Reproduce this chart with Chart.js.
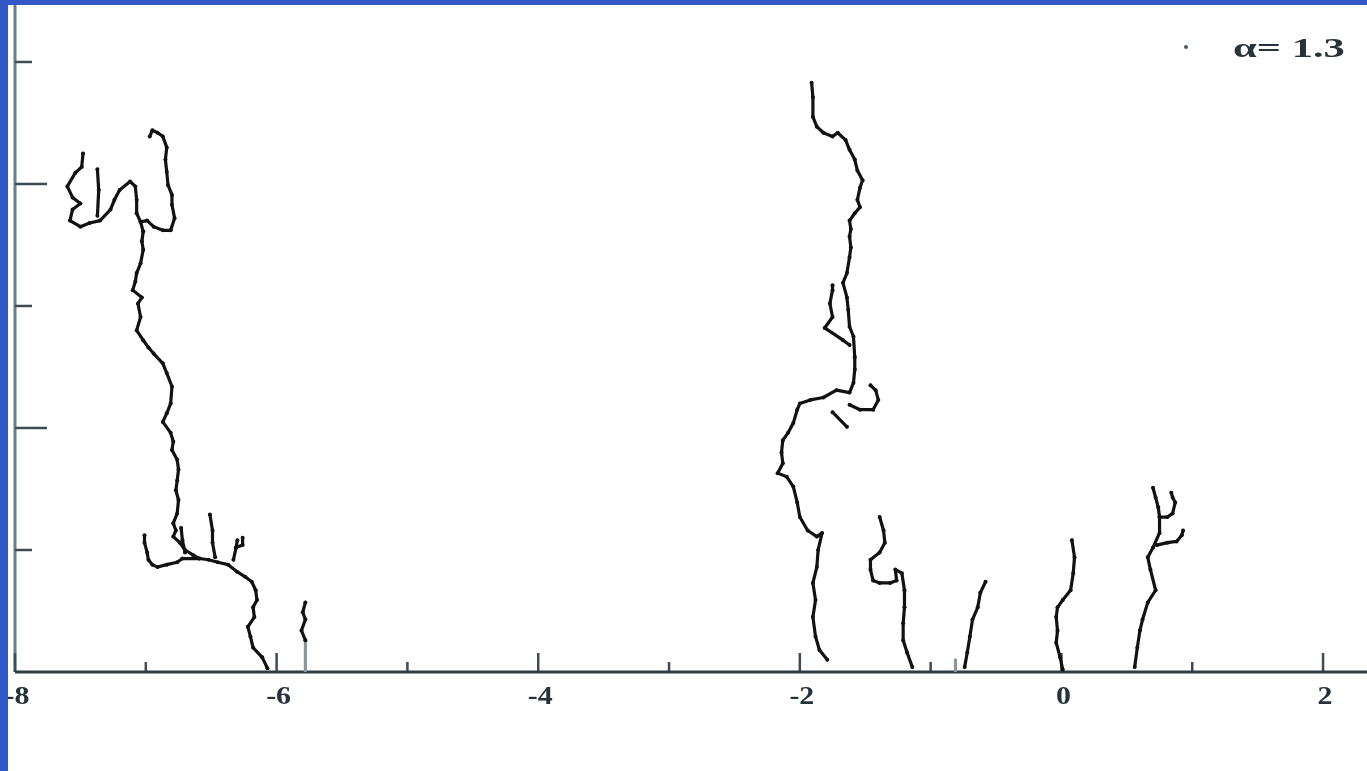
<!DOCTYPE html>
<html>
<head>
<meta charset="utf-8">
<script src="https://cdn.jsdelivr.net/npm/chart.js@4.4.0/dist/chart.umd.min.js"></script>
<style>
html, body { margin: 0; padding: 0; background: #3158c8; width: 1367px; height: 771px; overflow: hidden; }
#wrap { position: absolute; left: 8px; top: 5px; width: 1359px; height: 766px; background: #fff; }
</style>
</head>
<body>
<div id="wrap"><canvas id="chart"></canvas></div>
<script>
// axis ticks
const xTicks = [-8, -7, -6, -5, -4, -3, -2, -1, 0, 1, 2];
const xLabels = ['-8', '', '-6', '', '-4', '', '-2', '', '0', '', '2'];
const yTicks = [0, 1, 2, 3, 4, 5];
const legendLabel = 'α= 1.3';

// cluster near x = -6.5 (trunk from substrate to top)
const trunkA = [[-6.07,0.03],[-6.11,0.12],[-6.18,0.20],[-6.20,0.29],[-6.22,0.37],[-6.17,0.45],[-6.18,0.53],[-6.15,0.59],[-6.16,0.67],[-6.19,0.74],[-6.24,0.78],[-6.30,0.82],[-6.37,0.88],[-6.45,0.90],[-6.52,0.92],[-6.59,0.93],[-6.64,0.96],[-6.70,1.00],[-6.74,1.06],[-6.79,1.11],[-6.77,1.16],[-6.79,1.22],[-6.76,1.30],[-6.75,1.41],[-6.77,1.49],[-6.76,1.57],[-6.75,1.66],[-6.76,1.74],[-6.80,1.82],[-6.79,1.89],[-6.81,1.96],[-6.87,2.05],[-6.84,2.12],[-6.81,2.20],[-6.80,2.34],[-6.84,2.45],[-6.87,2.53],[-6.94,2.61],[-6.98,2.66],[-7.02,2.72],[-7.07,2.80],[-7.04,2.91],[-7.06,3.02],[-7.03,3.07],[-7.10,3.13],[-7.08,3.20],[-7.07,3.27],[-7.04,3.35],[-7.02,3.46],[-7.03,3.53],[-7.02,3.61]];
const lowLeftA = [[-6.59,0.93],[-6.72,0.93],[-6.76,0.90],[-6.84,0.88],[-6.91,0.86],[-6.95,0.88],[-6.98,0.92],[-6.99,0.98],[-7.01,1.06],[-7.01,1.12]];
const topLoopA = [[-7.02,3.61],[-7.04,3.69],[-7.07,3.76],[-7.07,3.87],[-7.08,3.98],[-7.12,4.02],[-7.20,3.95],[-7.24,3.87],[-7.27,3.79],[-7.35,3.70],[-7.43,3.68],[-7.50,3.65],[-7.58,3.70],[-7.56,3.79],[-7.50,3.84],[-7.56,3.89],[-7.60,3.98],[-7.54,4.09],[-7.49,4.14],[-7.48,4.25]];
const sprigA = [[-7.37,3.74],[-7.36,3.95],[-7.37,4.12]];
const topRightA = [[-7.04,3.69],[-6.99,3.70],[-6.94,3.65],[-6.87,3.62],[-6.81,3.62],[-6.78,3.72],[-6.80,3.83],[-6.80,3.91],[-6.83,3.99],[-6.84,4.10],[-6.85,4.20],[-6.84,4.30],[-6.87,4.39],[-6.91,4.42],[-6.95,4.44],[-6.97,4.39]];
const twigA1 = [[-6.47,0.94],[-6.49,1.06],[-6.49,1.16],[-6.51,1.29]];
const twigA2 = [[-6.33,0.92],[-6.31,1.02],[-6.30,1.08]];
const twigA3 = [[-6.31,1.02],[-6.26,1.04],[-6.26,1.10]];
const twigA4 = [[-6.70,0.98],[-6.72,1.08],[-6.73,1.18]];
const stubA = [[-5.78,0.26],[-5.81,0.34],[-5.78,0.43],[-5.80,0.49],[-5.78,0.57]];
const stubAFaint = [[-5.78,0.0],[-5.78,0.26]];

// cluster near x = -1.8
const trunkB = [[-1.91,4.83],[-1.90,4.71],[-1.90,4.55],[-1.87,4.47],[-1.82,4.42],[-1.75,4.39],[-1.71,4.42],[-1.65,4.36],[-1.62,4.28],[-1.58,4.20],[-1.56,4.11],[-1.52,4.03],[-1.54,3.97],[-1.56,3.87],[-1.54,3.81],[-1.58,3.76],[-1.62,3.70],[-1.61,3.63],[-1.62,3.57],[-1.61,3.48],[-1.62,3.40],[-1.64,3.27],[-1.67,3.19],[-1.64,3.07],[-1.63,2.97],[-1.62,2.83],[-1.59,2.75],[-1.58,2.58],[-1.58,2.48],[-1.59,2.37],[-1.62,2.29],[-1.72,2.31],[-1.82,2.25],[-1.92,2.23],[-2.00,2.20],[-2.02,2.15],[-2.05,2.04],[-2.09,1.96],[-2.13,1.90],[-2.14,1.80],[-2.13,1.71],[-2.17,1.63],[-2.10,1.60],[-2.05,1.52],[-2.02,1.39],[-2.00,1.27],[-1.94,1.16],[-1.87,1.11],[-1.83,1.14],[-1.86,1.00],[-1.87,0.86],[-1.90,0.73],[-1.88,0.59],[-1.90,0.45],[-1.88,0.29],[-1.85,0.18],[-1.79,0.10]];
const sideB = [[-1.62,2.68],[-1.67,2.72],[-1.81,2.82],[-1.75,2.91],[-1.77,3.02],[-1.75,3.13],[-1.75,3.17]];
const hookB = [[-1.62,2.19],[-1.54,2.15],[-1.44,2.15],[-1.40,2.23],[-1.42,2.31],[-1.46,2.35]];
const dashB = [[-1.75,2.13],[-1.64,2.01]];

// small clusters near the origin
const clusterC = [[-1.39,1.27],[-1.36,1.16],[-1.35,1.06],[-1.39,0.98],[-1.46,0.92],[-1.46,0.84],[-1.44,0.75],[-1.39,0.73],[-1.31,0.73],[-1.26,0.75],[-1.27,0.84],[-1.22,0.81],[-1.20,0.67],[-1.20,0.53],[-1.21,0.40],[-1.21,0.26],[-1.18,0.16],[-1.14,0.04]];
const clusterD = [[-0.58,0.74],[-0.62,0.65],[-0.64,0.53],[-0.68,0.43],[-0.70,0.29],[-0.72,0.16],[-0.74,0.04]];
const stubD = [[-0.81,0.0],[-0.81,0.10]];
const clusterE = [[0.08,1.08],[0.10,0.94],[0.09,0.81],[0.07,0.67],[0.01,0.59],[-0.03,0.53],[-0.04,0.45],[-0.03,0.34],[-0.04,0.24],[-0.01,0.12],[0.01,0.02]];
const stemF = [[0.56,0.04],[0.58,0.20],[0.60,0.34],[0.62,0.43],[0.66,0.57],[0.72,0.67],[0.68,0.84],[0.66,0.94],[0.70,1.02],[0.75,1.14],[0.75,1.27],[0.74,1.35],[0.72,1.43],[0.70,1.51]];
const forkF = [[0.75,1.27],[0.81,1.27],[0.85,1.30],[0.87,1.39],[0.85,1.43],[0.84,1.47]];
const sideF = [[0.73,1.04],[0.81,1.06],[0.88,1.07],[0.92,1.12],[0.93,1.16]];

const darkChains = [trunkA, lowLeftA, topLoopA, sprigA, topRightA, twigA1, twigA2, twigA3, twigA4, stubA,
  trunkB, sideB, hookB, dashB, clusterC, clusterD, clusterE, stemF, forkF, sideF];
const faintChains = [stubAFaint, stubD];

function chainSet(pts, color) {
    return {
        data: pts.map(p => ({ x: p[0], y: p[1] })),
        showLine: true,
        borderColor: color,
        backgroundColor: color,
        borderWidth: 3.2,
        borderJoinStyle: 'round',
        borderCapStyle: 'round',
        pointRadius: 2,
        pointBorderWidth: 0,
        fill: false,
        tension: 0
    };
}

const datasets = darkChains.map(c => chainSet(c, '#121212'))
    .concat(faintChains.map(c => Object.assign(chainSet(c, '#8a959c'), { pointRadius: 0 })));

const axesPlugin = {
    id: 'axes',
    beforeDatasetsDraw(chart) {
        const { ctx, chartArea: a, scales: { x, y } } = chart;
        ctx.save();
        // left axis
        ctx.strokeStyle = '#6f7d86';
        ctx.lineWidth = 3;
        ctx.beginPath();
        ctx.moveTo(a.left, a.top);
        ctx.lineTo(a.left, a.bottom);
        ctx.stroke();
        ctx.strokeStyle = '#3e4b53';
        ctx.lineWidth = 2.5;
        yTicks.forEach(v => {
            if (v === 0) return;
            const py = y.getPixelForValue(v);
            const len = v % 2 === 0 ? 32 : 17;
            ctx.beginPath();
            ctx.moveTo(a.left, py);
            ctx.lineTo(a.left + len, py);
            ctx.stroke();
        });
        // bottom axis
        const by = y.getPixelForValue(0);
        xTicks.forEach((v, i) => {
            const px = x.getPixelForValue(v);
            const len = xLabels[i] ? 19 : 10;
            ctx.beginPath();
            ctx.moveTo(px, by);
            ctx.lineTo(px, by - len);
            ctx.stroke();
        });
        ctx.strokeStyle = '#2f3b42';
        ctx.lineWidth = 3;
        ctx.beginPath();
        ctx.moveTo(a.left, by);
        ctx.lineTo(a.right, by);
        ctx.stroke();
        ctx.restore();
    },
    afterDraw(chart) {
        const { ctx, chartArea: a, scales: { x, y } } = chart;
        ctx.save();
        ctx.fillStyle = '#26333a';
        ctx.font = 'bold 26px "Liberation Serif"';
        ctx.textAlign = 'center';
        ctx.textBaseline = 'middle';
        const by = y.getPixelForValue(0);
        xTicks.forEach((v, i) => {
            if (!xLabels[i]) return;
            ctx.save();
            ctx.translate(x.getPixelForValue(v) + 2, by + 25);
            ctx.scale(1.15, 1);
            ctx.fillText(xLabels[i], 0, 0);
            ctx.restore();
        });
        // legend
        ctx.fillStyle = '#4a5a66';
        ctx.beginPath();
        ctx.arc(a.right - 181, a.top + 42, 2, 0, Math.PI * 2);
        ctx.fill();
        ctx.fillStyle = '#26333a';
        ctx.font = 'bold 28px "Liberation Serif"';
        ctx.textAlign = 'left';
        ctx.textBaseline = 'alphabetic';
        ctx.translate(a.right - 134, a.top + 52);
        ctx.scale(1.52, 1);
        ctx.fillText(legendLabel, 0, 0);
        ctx.restore();
    }
};

new Chart(document.getElementById('chart'), {
    type: 'scatter',
    data: { datasets: datasets },
    options: {
        responsive: true,
        maintainAspectRatio: false,
        animation: false,
        layout: { autoPadding: false, padding: { left: 7, top: 0, right: 0, bottom: 99 } },
        plugins: { legend: { display: false }, tooltip: { enabled: false } },
        scales: {
            x: { type: 'linear', min: -8, max: 2.336, display: false },
            y: { type: 'linear', min: 0, max: 5.467, display: false }
        }
    },
    plugins: [axesPlugin]
});
</script>
</body>
</html>
